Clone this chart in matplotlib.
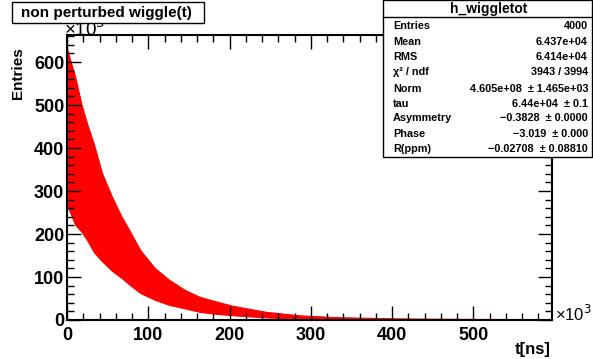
import numpy as np
import matplotlib.pyplot as plt
from matplotlib.patches import Rectangle
from matplotlib.ticker import MultipleLocator

plt.rcParams['font.family'] = ['Liberation Sans', 'DejaVu Sans']

# envelope of the wiggle (t in 10^3 ns, entries in 10^3)
t_us = [0, 2, 5, 10, 18, 25, 33, 43, 55, 67, 77, 90, 108, 126, 145, 163,
        180, 204, 245, 286, 327, 370, 420, 500, 596.8]
upper = [632, 618, 598, 566, 500, 455, 410, 342, 288, 241, 208, 163, 121, 93,
         70, 54, 45, 33, 19, 11, 7, 5, 3.5, 2.5, 2]
lower = [268, 258, 245, 222, 205, 185, 158, 137, 115, 98, 82, 63, 47, 35, 27,
         19, 15, 11, 6, 3, 2, 1.5, 1, 0.5, 0.3]

title = "non perturbed wiggle(t)"
stats_name = "h_wiggletot"
stats_labels = ["Entries", "Mean", "RMS", "\u03c7\u00b2 / ndf", "Norm", "tau",
                "Asymmetry", "Phase", "R(ppm)"]
stats_values = ["4000", "6.437e+04", "6.414e+04", "3943 / 3994",
                "4.605e+08  \u00b1 1.465e+03", "6.44e+04  \u00b1 0.1",
                "\u22120.3828  \u00b1 0.0000", "\u22123.019  \u00b1 0.000",
                "\u22120.02708  \u00b1 0.08810"]
stats_rows_y = [26, 41.7, 57.3, 71.7, 89.3, 104, 118.3, 134.3, 149.3]

W, H = 593, 359
def fx(x):
    return x / W
def fy(y):
    return 1 - y / H

fig = plt.figure(figsize=(W / 100, H / 100), dpi=100)
fig.patch.set_facecolor('white')
ax = fig.add_axes([fx(67), fy(320), (552 - 67) / W, (320 - 35) / H])

ax.fill_between(t_us, lower, upper, color='red', lw=0.8, edgecolor='red')
ax.set_xlim(0, 596.8)
ax.set_ylim(0, 663)

ax.xaxis.set_major_locator(MultipleLocator(100))
ax.xaxis.set_minor_locator(MultipleLocator(20))
ax.yaxis.set_major_locator(MultipleLocator(100))
ax.yaxis.set_minor_locator(MultipleLocator(20))
ax.tick_params(which='both', direction='in', top=True, right=True, width=1)
ax.tick_params(which='major', length=10)
ax.tick_params(which='minor', length=5)
ax.tick_params(axis='x', pad=5)
ax.tick_params(axis='y', pad=2)
for lab in ax.get_xticklabels() + ax.get_yticklabels():
    lab.set_fontsize(13)
    lab.set_fontweight('bold')
for s in ax.spines.values():
    s.set_linewidth(1.5)

# axis titles and exponents
fig.text(fx(18), fy(47), "Entries", rotation=90, ha='center', va='top',
         fontsize=11, fontweight='bold')
fig.text(fx(551), fy(357), "t[ns]", ha='right', va='bottom',
         fontsize=12, fontweight='bold')
fig.text(fx(555), fy(314), "\u00d710$^3$", ha='left', va='center', fontsize=12)
fig.text(fx(64), fy(29.5), "\u00d710$^3$", ha='left', va='center',
         fontsize=13.5, zorder=4)

# title box
fig.patches.append(Rectangle((fx(12), fy(23)), (204 - 12) / W, 21 / H,
                             transform=fig.transFigure, fc='white', ec='black',
                             lw=1, zorder=5))
fig.text(fx(21), fy(12.5), title, ha='left', va='center', fontsize=11,
         fontweight='bold', zorder=6)

# stats box
fig.patches.append(Rectangle((fx(383), fy(157)), (592 - 383) / W, 157 / H,
                             transform=fig.transFigure, fc='white', ec='black',
                             lw=1, zorder=5))
fig.lines.append(plt.Line2D([fx(383), fx(592)], [fy(17), fy(17)],
                            transform=fig.transFigure, color='black', lw=1,
                            zorder=6))
fig.text(fx(489), fy(8.5), stats_name, ha='center', va='center', fontsize=10,
         fontweight='bold', zorder=6)
for lab, val, y in zip(stats_labels, stats_values, stats_rows_y):
    fig.text(fx(393), fy(y), lab, ha='left', va='center', fontsize=7.8,
             fontweight='bold', zorder=6)
    fig.text(fx(588), fy(y), val, ha='right', va='center', fontsize=7.8,
             fontweight='bold', zorder=6)

fig.savefig("out.png", dpi=100)
